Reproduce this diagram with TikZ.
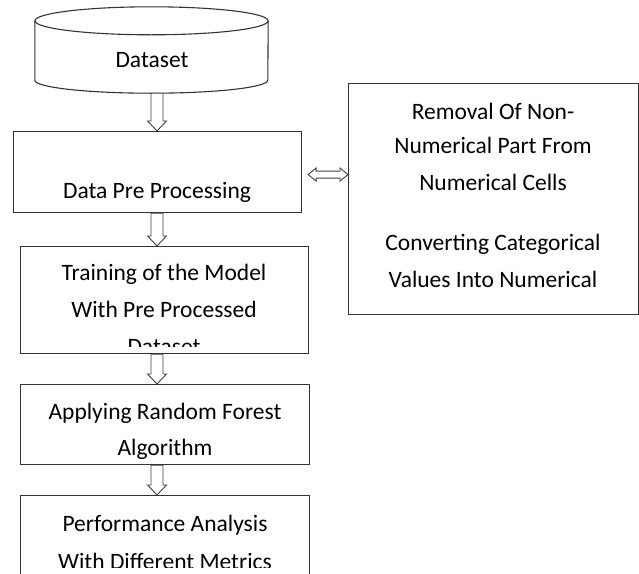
\documentclass[tikz,border=0pt]{standalone}
\usepackage{fontspec}
\setmainfont{Carlito}
\usetikzlibrary{positioning,calc}

% hollow block arrows between two points
\newcommand\hollowdown[2]{%
	\draw[blk] let \p1=(#1), \p2=(#2) in (\x1-6pt,\y1) -- (\x1-6pt,\y2+10pt) -- (\x1-9.5pt,\y2+10pt) -- (\x1,\y2)
		-- (\x1+9.5pt,\y2+10pt) -- (\x1+6pt,\y2+10pt) -- (\x1+6pt,\y1) -- cycle;}
\newcommand\hollowboth[2]{%
	\draw[blk] let \p1=(#1), \p2=(#2) in (\x1,\y1) -- (\x1+8pt,\y1+6.5pt) -- (\x1+8pt,\y1+3.5pt) -- (\x2-8pt,\y1+3.5pt)
		-- (\x2-8pt,\y1+6.5pt) -- (\x2,\y1) -- (\x2-8pt,\y1-6.5pt) -- (\x2-8pt,\y1-3.5pt) -- (\x1+8pt,\y1-3.5pt)
		-- (\x1+8pt,\y1-6.5pt) -- cycle;}

\begin{document}
\begin{tikzpicture}[x=1pt, y=-1pt,
	box/.style={draw=black!80, line width=1.1pt, anchor=north west, inner sep=0pt},
	lbl/.style={anchor=base, inner sep=0pt, font=\fontsize{23.5}{28}\selectfont},
	blk/.style={draw=black!75, line width=0.9pt, fill=white, line join=miter}]
	\useasboundingbox (0,0) rectangle (639,573);
	% database
	\node[minimum width=233pt, minimum height=86pt, inner sep=0pt] (data) at (151.5,50) {};
	\draw[black!80, line width=1.1pt] ([yshift=-14pt]data.north west) -- ([yshift=13pt]data.south west)
		arc[start angle=180, end angle=360, x radius=116.5pt, y radius=13pt] -- ([yshift=-14pt]data.north east);
	\draw[black!80, line width=1.1pt] ([yshift=-14pt]data.north) ellipse[x radius=116.5pt, y radius=14pt];
	\node[lbl] (datatxt) at (152,67) {Dataset};
	% boxes
	\node[box, minimum width=288pt, minimum height=81pt] (prep) at (13,131) {};
	\node[box, minimum width=288pt, minimum height=107pt] (train) at (20,246) {};
	\node[box, minimum width=289pt, minimum height=80pt] (forest) at (20,384) {};
	\node[box, minimum width=289pt, minimum height=90pt] (perf) at (20,495) {};
	\node[box, minimum width=290pt, minimum height=231pt] (clean) at (348,83) {};
	% texts, cut off where the boxes are too small
	\begin{scope}
		\clip (prep.north west) rectangle ([yshift=11pt]prep.south east);
		\node[lbl] (preptxt) at (157,198) {Data Pre Processing};
	\end{scope}
	\begin{scope}
		\clip (train.north west) rectangle ([yshift=8pt]train.south east);
		\foreach \y/\t in {280/Training of the Model, 317/With Pre Processed, 354/Dataset}
			\node[lbl] (train\y) at (164,\y) {\t};
	\end{scope}
	\begin{scope}
		\clip (forest.north west) rectangle ([yshift=6pt]forest.south east);
		\foreach \y/\t in {419/Applying Random Forest, 455/Algorithm}
			\node[lbl] (forest\y) at (165,\y) {\t};
	\end{scope}
	\begin{scope}
		\clip (perf.north west) rectangle (639,567);
		\foreach \y/\t in {531/Performance Analysis, 569/With Different Metrics}
			\node[lbl] (perf\y) at (165,\y) {\t};
	\end{scope}
	\foreach \y/\t in {119/Removal Of Non-, 153/Numerical Part From, 190/Numerical Cells, 250/Converting Categorical, 287/Values Into Numerical}
		\node[lbl] (clean\y) at (493,\y) {\t};
	% arrows
	\coordinate (spine) at (157,0);
	\hollowdown{data.south -| spine}{prep.north -| spine}
	\hollowdown{prep.south -| spine}{train.north -| spine}
	\hollowdown{train.south -| spine}{forest.north -| spine}
	\hollowdown{forest.south -| spine}{perf.north -| spine}
	\hollowboth{$(prep.east)+(6,2.5)$}{$(prep.east -| clean.west)+(0,2.5)$}
\end{tikzpicture}
\end{document}
